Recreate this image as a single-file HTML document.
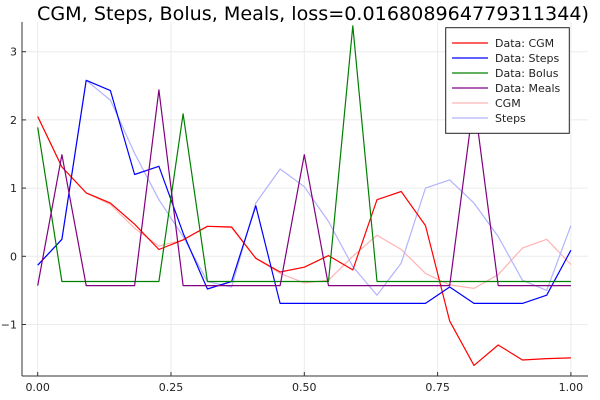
<!DOCTYPE html>
<html><head><meta charset="utf-8"><style>
body{margin:0;background:#fff}
svg{display:block;font-family:"DejaVu Sans","Liberation Sans",sans-serif}
</style></head><body>
<svg id="chart" width="600" height="400" viewBox="0 0 600 400" xmlns="http://www.w3.org/2000/svg">
<text x="313" y="20" font-size="19" text-anchor="middle" textLength="552" lengthAdjust="spacingAndGlyphs">CGM, Steps, Bolus, Meals, loss=0.016808964779311344)</text>
<g id="grid"></g><g id="axes"></g><g id="series"></g><g id="legend"></g>
</svg>
<script>
const xTicks=[0,0.25,0.5,0.75,1];
const xTickLabels=["0.00","0.25","0.50","0.75","1.00"];
const yTicks=[-1,0,1,2,3];
const yTickLabels=["\u22121","0","1","2","3"];
const dataCGM=[2.05,1.31,0.93,0.78,0.47,0.10,0.24,0.44,0.43,-0.03,-0.23,-0.16,0.01,-0.20,0.83,0.95,0.45,-0.95,-1.60,-1.30,-1.52,-1.50,-1.49];
const dataSteps=[-0.13,0.25,2.58,2.43,1.20,1.32,0.34,-0.48,-0.37,0.74,-0.69,-0.69,-0.69,-0.69,-0.69,-0.69,-0.69,-0.45,-0.69,-0.69,-0.69,-0.57,0.09];
const dataBolus=[1.89,-0.37,-0.37,-0.37,-0.37,-0.37,2.09,-0.37,-0.37,-0.37,-0.37,-0.37,-0.37,3.38,-0.37,-0.37,-0.37,-0.37,-0.37,-0.37,-0.37,-0.37,-0.37];
const dataMeals=[-0.43,1.49,-0.43,-0.43,-0.43,2.44,-0.43,-0.43,-0.43,-0.43,-0.43,1.49,-0.43,-0.43,-0.43,-0.43,-0.43,-0.43,2.3,-0.43,-0.43,-0.43,-0.43];
const predCGM=[2.05,1.31,0.93,0.76,0.41,0.15,0.24,0.44,0.42,-0.03,-0.25,-0.39,-0.35,0.0,0.31,0.10,-0.25,-0.42,-0.47,-0.27,0.12,0.25,-0.12];
const predSteps=[-0.13,0.25,2.58,2.29,1.51,0.83,0.29,-0.37,-0.45,0.78,1.28,1.02,0.51,-0.15,-0.57,-0.10,1.00,1.12,0.78,0.29,-0.35,-0.50,0.45];
const legendNames=["Data: CGM","Data: Steps","Data: Bolus","Data: Meals","CGM","Steps"];
const NS="http://www.w3.org/2000/svg";
const L=22,R=588,T=22,B=376;
const X0=37.7,X1=570.9;
const sx=v=>X0+(X1-X0)*v;
const sy=v=>256.3-68.2*v;
function mk(tag,attrs,parent){const e=document.createElementNS(NS,tag);for(const k in attrs)e.setAttribute(k,attrs[k]);parent.appendChild(e);return e;}
const grid=document.getElementById('grid'),axes=document.getElementById('axes'),ser=document.getElementById('series'),leg=document.getElementById('legend');
xTicks.forEach((t,i)=>{
 const g=mk('line',{x1:sx(t),x2:sx(t),y1:T,y2:B,stroke:'#ebebeb','stroke-width':1},grid);
 
 
 const tk=mk('line',{x1:sx(t),x2:sx(t),y1:B,y2:B-4,stroke:'#333'},axes);
 
 
 const tx=mk('text',{x:sx(t),y:391,'font-size':11,'text-anchor':'middle',fill:'#222'},axes);
 tx.textContent=xTickLabels[i];
 
 
});
yTicks.forEach((t,i)=>{
 const g=mk('line',{x1:L,x2:R,y1:sy(t),y2:sy(t),stroke:'#ebebeb','stroke-width':1},grid);
 
 
 const tk=mk('line',{x1:L,x2:L+4,y1:sy(t),y2:sy(t),stroke:'#333'},axes);
 
 
 const tx=mk('text',{x:17,y:sy(t)+4,'font-size':11,'text-anchor':'end',fill:'#222'},axes);
 tx.textContent=yTickLabels[i];
 
 
});
const ya=mk('line',{x1:L,x2:L,y1:T,y2:B,stroke:'#333'},axes);


const xa=mk('line',{x1:L,x2:R,y1:B,y2:B,stroke:'#333'},axes);


const series=[
 {d:predCGM,c:'#ffb3b3',n:'cgm-line'},
 {d:predSteps,c:'#b3b3ff',n:'steps-line'},
 {d:dataCGM,c:'#ff0000',n:'data-cgm-line'},
 {d:dataSteps,c:'#0000ff',n:'data-steps-line'},
 {d:dataBolus,c:'#008000',n:'data-bolus-line'},
 {d:dataMeals,c:'#800080',n:'data-meals-line'}
];
series.forEach(s=>{
 const n=s.d.length-1;
 const pts=s.d.map((v,i)=>sx(i/n).toFixed(1)+','+sy(v).toFixed(1)).join(' ');
 const p=mk('polyline',{points:pts,fill:'none',stroke:s.c,'stroke-width':1.2,'stroke-linejoin':'round'},ser);
 
 
});
const box=mk('rect',{x:445.7,y:27.7,width:123.6,height:105.6,fill:'#fff',stroke:'#222','stroke-width':1},leg);


const legCols=['#ff0000','#0000ff','#008000','#800080','#ffb3b3','#b3b3ff'];
legendNames.forEach((nm,i)=>{
 const y=43+i*15;
 const l=mk('line',{x1:452,x2:488,y1:y,y2:y,stroke:legCols[i],'stroke-width':1.2},leg);
 
 
 const t=mk('text',{x:495,y:y+4,'font-size':11,fill:'#222'},leg);
 t.textContent=nm;
 
 
});
</script>
</body></html>
